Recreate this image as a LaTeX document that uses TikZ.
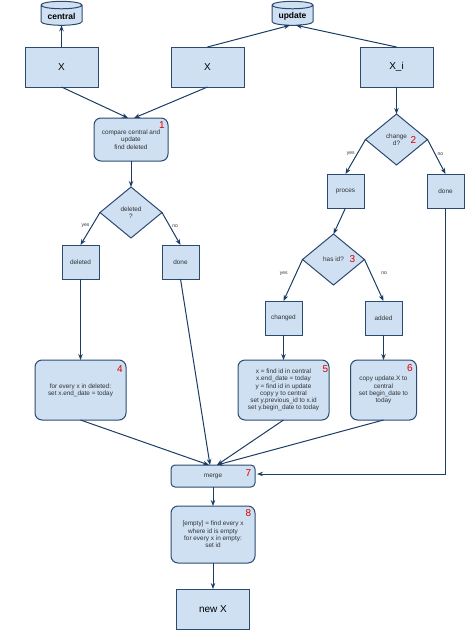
\documentclass[tikz,border=0pt]{standalone}
\usepackage{fontspec}
\setmainfont{Liberation Sans}
\usetikzlibrary{arrows.meta,positioning,shapes.geometric}
\definecolor{boxfill}{RGB}{206,224,242}
\definecolor{boxline}{RGB}{44,74,112}
\definecolor{arrowline}{RGB}{28,60,100}
\definecolor{smalltext}{RGB}{50,50,50}

\begin{document}
\begin{tikzpicture}[
    x=1pt, y=1pt,
    node distance=10pt and 10pt,
    >={Stealth[length=6pt,width=4.5pt]},
    base/.style={draw=boxline, fill=boxfill, line width=1pt, outer sep=0pt, inner sep=1pt, align=center, font=\fontsize{6.4}{7.3}\selectfont, text=smalltext},
    bigbox/.style={base, minimum width=73pt, minimum height=40pt, font=\fontsize{10}{12}\selectfont, text=black},
    smallbox/.style={base, minimum width=37pt, minimum height=34pt},
    roundbox/.style={base, rounded corners=7pt},
    store/.style={base, cylinder, shape border rotate=90, aspect=.25, minimum width=41pt, minimum height=24pt, font=\fontsize{8.5}{10}\bfseries\selectfont, text=black},
    decision/.style={base, diamond, aspect=1.22, inner sep=0pt, minimum width=62pt, minimum height=51pt},
    num/.style={text=red!85!black, font=\fontsize{10}{12}\selectfont, inner sep=0pt},
    lbl/.style={font=\fontsize{5}{6}\selectfont, text=smalltext, inner sep=0pt},
    flow/.style={->, draw=arrowline, line width=1pt}
]
\useasboundingbox (0,0) rectangle (474,-635);

% ---- top row ----
\node[store] (central) at (61.5,-16) {central};
\node[store] (update) at (292.5,-16) {update};
\node[bigbox] (xa) at (61.5,-67) {X};
\node[bigbox, right=73pt of xa] (xb) {X};
\node[bigbox, right=116pt of xb] (xi) {X\_i};

% ---- left lane ----
\node[roundbox, minimum width=74pt, minimum height=43pt] (compare) at (131,-139.5) {compare central and\\update\\find deleted};
\node[decision, below=26pt of compare] (isdel) {deleted\\?};
\node[smallbox] (deleted) at (80.5,-262) {deleted};
\node[smallbox] (donea) at (180.5,-262) {done};
\node[roundbox, minimum width=91pt, minimum height=60pt, below=81pt of deleted] (setend) {for every x in deleted:\\set x.end\_date = today};

% ---- right lane ----
\node[decision, below=27pt of xi] (ischg) {change\\d?};
\node[smallbox] (proces) at (345.5,-191) {proces};
\node[smallbox] (doneb) at (445.5,-191) {done};
\node[decision] (hasid) at (333.5,-259.5) {has id?};
\node[smallbox] (changed) at (283.5,-318) {changed};
\node[smallbox] (added) at (383.5,-318) {added};
\node[roundbox, minimum width=91pt, minimum height=60pt, below=25pt of changed] (central5) {x = find id in central\\x.end\_date = today\\y = find id in update\\copy y to central\\set y.previous\_id to x.id\\set y.begin\_date to today};
\node[roundbox, minimum width=66pt, minimum height=60pt, below=25pt of added] (copyup) {copy update.X to\\central\\set begin\_date to\\today};

% ---- bottom ----
\node[roundbox, rounded corners=4pt, minimum width=84pt, minimum height=22pt] (merge) at (213,-476) {merge};
\node[roundbox, minimum width=84pt, minimum height=57pt, below=19pt of merge] (setid) {[empty] = find every x\\where id is empty\\for every x in empty:\\set id};
\node[bigbox, below=26pt of setid] (newx) {new X};

% numbers
\node[num] (n1) at ([shift={(-6,-7)}]compare.north east) {1};
\node[num] (n2) at (413.5,-140) {2};
\node[num] (n3) at (352.5,-259) {3};
\node[num] (n4) at ([shift={(-6,-9)}]setend.north east) {4};
\node[num] (n5) at ([shift={(-3.5,-9)}]central5.north east) {5};
\node[num] (n6) at ([shift={(-6.5,-8)}]copyup.north east) {6};
\node[num] (n7) at ([shift={(-6.5,2.5)}]merge.east) {7};
\node[num] (n8) at ([shift={(-6.5,-7)}]setid.north east) {8};

% arrows
\draw[flow] (xa) -- (central);
\draw[flow] (xa.south) -- ([xshift=-3pt]compare.north);
\draw[flow] (xb.south) -- ([xshift=3pt]compare.north);
\draw[flow] (xb.north) -- ([xshift=-2.5pt]update.south);
\draw[flow] (xi.north) -- ([xshift=3.5pt]update.south);
\draw[flow] (compare) -- (isdel);
\draw[flow] (isdel.west) -- node[lbl, left=2pt, pos=.42] {yes} (deleted.north);
\draw[flow] (isdel.east) -- node[lbl, right=2pt, pos=.42] {no} (donea.north);
\draw[flow] (deleted) -- (setend);
\draw[flow] (xi) -- (ischg);
\draw[flow] (ischg.west) -- node[lbl, left=2pt, pos=.42] {yes} (proces.north);
\draw[flow] (ischg.east) -- node[lbl, right=2pt, pos=.42] {no} (doneb.north);
\draw[flow] (proces.south) -- (hasid.north);
\draw[flow] (hasid.west) -- node[lbl, left=8pt, pos=.33] {yes} (changed.north);
\draw[flow] (hasid.east) -- node[lbl, right=10pt, pos=.33] {no} (added.north);
\draw[flow] (changed) -- (central5);
\draw[flow] (added) -- (copyup);
\draw[flow] (setend.south) -- ([xshift=-4pt]merge.north);
\draw[flow] (donea.south) -- ([xshift=-3pt]merge.north);
\draw[flow] (central5.south) -- ([xshift=4pt]merge.north);
\draw[flow] (copyup.south) -- ([xshift=4pt]merge.north);
\draw[flow, shorten >=2pt] (doneb.south) |- ([yshift=2pt]merge.east);
\draw[flow] (merge) -- (setid);
\draw[flow] (setid) -- (newx);

\end{tikzpicture}
\end{document}
